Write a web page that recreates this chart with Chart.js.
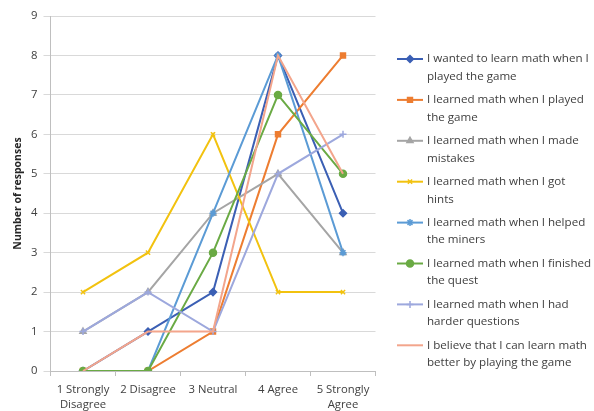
<!DOCTYPE html>
<html><head><meta charset="utf-8">
<script src="https://cdn.jsdelivr.net/npm/chart.js@4.4.1/dist/chart.umd.min.js"></script>
<style>html,body{margin:0;padding:0;background:#fff;}#wrap{width:594px;height:411px;}</style>
</head><body><div id="wrap"><canvas id="c" width="594" height="411"></canvas></div>
<script>
// ---- data ----
const categories = [['1 Strongly', 'Disagree'], '2 Disagree', '3 Neutral', '4 Agree', ['5 Strongly', 'Agree']];
const yTickValues = [0, 1, 2, 3, 4, 5, 6, 7, 8, 9];
const seriesNames = [
  ['I wanted to learn math when I', 'played the game'],
  ['I learned math when I played', 'the game'],
  ['I learned math when I made', 'mistakes'],
  ['I learned math when I got', 'hints'],
  ['I learned math when I helped', 'the miners'],
  ['I learned math when I finished', 'the quest'],
  ['I learned math when I had', 'harder questions'],
  ['I believe that I can learn math', 'better by playing the game']
];
const wantedToLearn   = [0, 1, 2, 8, 4];
const learnedPlayed   = [0, 0, 1, 6, 8];
const learnedMistakes = [1, 2, 4, 5, 3];
const learnedHints    = [2, 3, 6, 2, 2];
const learnedMiners   = [0, 0, 4, 8, 3];
const learnedQuest    = [0, 0, 3, 7, 5];
const learnedHarder   = [1, 2, 1, 5, 6];
const believeBetter   = [0, 1, 1, 8, 5];
const seriesValues = [wantedToLearn, learnedPlayed, learnedMistakes, learnedHints, learnedMiners, learnedQuest, learnedHarder, believeBetter];

// ---- styles ----
const colors = ['#3B5FB4', '#ED7D31', '#A5A5A5', '#F2C20F', '#5B9BD5', '#6AAA44', '#9DA8DD', '#F3A58C'];
const pointStyles = ['rectRot', 'rect', 'triangle', 'crossRot', 'star', 'circle', 'cross', false];
const pointRadii = [3.5, 3.5, 3.5, 3, 3.5, 3.5, 3.5, 0];

const FONT = '"Open Sans", "DejaVu Sans", sans-serif';

const datasets = seriesValues.map((vals, i) => ({
  label: seriesNames[i].join(' '),
  data: vals,
  borderColor: colors[i],
  backgroundColor: colors[i],
  borderWidth: 2,
  pointStyle: pointStyles[i],
  pointRadius: pointRadii[i],
  pointBorderWidth: 1.5,
  pointBackgroundColor: colors[i],
  pointBorderColor: colors[i],
  tension: 0,
  order: seriesValues.length - i
}));

const sideLegend = {
  id: 'sideLegend',
  afterDraw(chart) {
    const ctx = chart.ctx;
    const ca = chart.chartArea;
    const x0 = ca.right + 21.5, x1 = x0 + 26, tx = x1 + 4;
    const y0 = 59, step = 40.9, lh = 17.5;
    ctx.save();
    chart.data.datasets.forEach((ds, i) => {
      const y = y0 + i * step;
      ctx.strokeStyle = ds.borderColor;
      ctx.lineWidth = 2;
      ctx.beginPath(); ctx.moveTo(x0, y); ctx.lineTo(x1, y); ctx.stroke();
      if (ds.pointStyle) {
        ctx.fillStyle = ds.borderColor;
        ctx.strokeStyle = ds.borderColor;
        ctx.lineWidth = 1.5;
        Chart.helpers.drawPoint(ctx, {pointStyle: ds.pointStyle, radius: ds.pointRadius, rotation: 0, borderWidth: 1.5}, (x0 + x1) / 2, y);
      }
      ctx.fillStyle = '#404040';
      ctx.font = '11.6px ' + FONT;
      ctx.textBaseline = 'middle';
      ctx.textAlign = 'left';
      seriesNames[i].forEach((line, k) => ctx.fillText(line, tx, y + k * lh));
    });
    ctx.restore();
  }
};

new Chart(document.getElementById('c'), {
  type: 'line',
  data: { labels: categories, datasets },
  options: {
    responsive: false,
    animation: false,
    devicePixelRatio: 1,
    layout: { padding: { top: 16, right: 218.5, bottom: 0, left: 0 } },
    plugins: { legend: { display: false }, tooltip: { enabled: false } },
    scales: {
      x: {
        offset: true,
        grid: { display: true, drawOnChartArea: false, offset: true, color: '#BFBFBF', tickLength: 5 },
        border: { display: true, color: '#BFBFBF', width: 1 },
        ticks: { color: '#404040', font: { family: FONT, size: 11.3, lineHeight: 1.33 }, padding: 6, maxRotation: 0, autoSkip: false },
        afterFit(scale) { scale.height = 40; }
      },
      y: {
        min: 0, max: 9,
        afterBuildTicks(scale) { scale.ticks = yTickValues.map(v => ({ value: v })); },
        grid: { color: '#D9D9D9', tickLength: 7, lineWidth: 1 },
        border: { display: true, color: '#BFBFBF', width: 1 },
        ticks: { color: '#404040', font: { family: FONT, size: 11.3 }, padding: 6 },
        title: { display: true, text: 'Number of responses', color: '#262626', font: { family: FONT, size: 10.5, weight: 'bold' }, padding: { top: 12, bottom: 0 } },
        afterFit(scale) { scale.width = 50.5; }
      }
    }
  },
  plugins: [sideLegend]
});
</script>
</body></html>
